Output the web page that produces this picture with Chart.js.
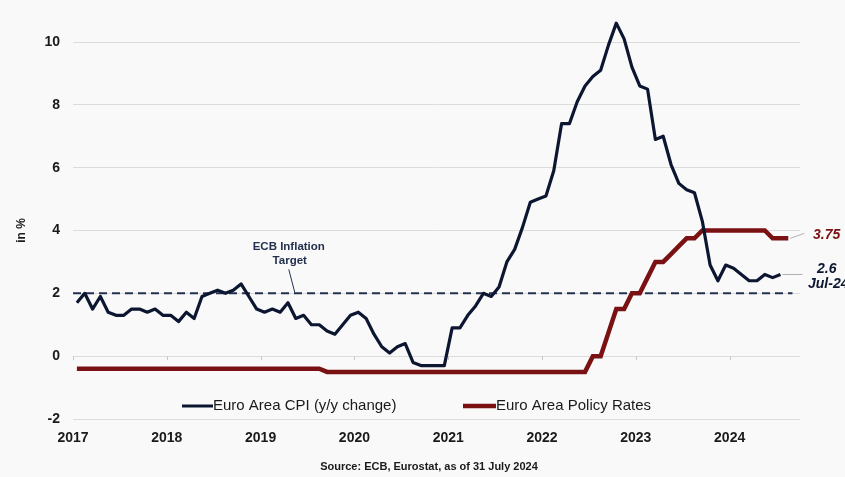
<!DOCTYPE html>
<html>
<head>
<meta charset="utf-8">
<script src="https://cdn.jsdelivr.net/npm/chart.js@4.4.1/dist/chart.umd.min.js"></script>
<style>
  html, body { margin: 0; padding: 0; background: #f9f9f9; }
  #wrap { width: 845px; height: 477px; }
</style>
</head>
<body>
<div id="wrap"><canvas id="chart" width="845" height="477"></canvas></div>
<script>
// Chart data
var startYear = 2017;
var yearTicks = [2017, 2018, 2019, 2020, 2021, 2022, 2023, 2024];

// Euro Area CPI y/y, monthly Jan 2017 - Jul 2024
var cpi = [
    1.7, 2.0, 1.5, 1.9, 1.4, 1.3, 1.3, 1.5, 1.5, 1.4, 1.5, 1.3,
    1.3, 1.1, 1.4, 1.2, 1.9, 2.0, 2.1, 2.0, 2.1, 2.3, 1.9, 1.5,
    1.4, 1.5, 1.4, 1.7, 1.2, 1.3, 1.0, 1.0, 0.8, 0.7, 1.0, 1.3,
    1.4, 1.2, 0.7, 0.3, 0.1, 0.3, 0.4, -0.2, -0.3, -0.3, -0.3, -0.3,
    0.9, 0.9, 1.3, 1.6, 2.0, 1.9, 2.2, 3.0, 3.4, 4.1, 4.9, 5.0,
    5.1, 5.9, 7.4, 7.4, 8.1, 8.6, 8.9, 9.1, 9.9, 10.6, 10.1, 9.2,
    8.6, 8.5, 6.9, 7.0, 6.1, 5.5, 5.3, 5.2, 4.3, 2.9, 2.4, 2.9,
    2.8, 2.6, 2.4, 2.4, 2.6, 2.5, 2.6
];

// Euro Area policy rate, monthly Jan 2017 - Aug 2024
var policyRate = [
    -0.4, -0.4, -0.4, -0.4, -0.4, -0.4, -0.4, -0.4, -0.4, -0.4, -0.4, -0.4,
    -0.4, -0.4, -0.4, -0.4, -0.4, -0.4, -0.4, -0.4, -0.4, -0.4, -0.4, -0.4,
    -0.4, -0.4, -0.4, -0.4, -0.4, -0.4, -0.4, -0.4, -0.5, -0.5, -0.5, -0.5,
    -0.5, -0.5, -0.5, -0.5, -0.5, -0.5, -0.5, -0.5, -0.5, -0.5, -0.5, -0.5,
    -0.5, -0.5, -0.5, -0.5, -0.5, -0.5, -0.5, -0.5, -0.5, -0.5, -0.5, -0.5,
    -0.5, -0.5, -0.5, -0.5, -0.5, -0.5, 0.0, 0.0, 0.75, 1.5, 1.5, 2.0,
    2.0, 2.5, 3.0, 3.0, 3.25, 3.5, 3.75, 3.75, 4.0, 4.0, 4.0, 4.0,
    4.0, 4.0, 4.0, 4.0, 4.0, 3.75, 3.75, 3.75
];

var inflationTarget = 2;
var targetSpan = [2017, 2024.67];

var cpiLabel = "Euro Area CPI (y/y change)";
var rateLabel = "Euro Area Policy Rates";

var cpiColor = "#0c1631";
var rateColor = "#7a1214";
var targetColor = "#23314f";

// monthly values sit at mid-month
function monthX(i) {
    return startYear + (i + 0.5) / 12;
}

function toPoints(arr) {
    return arr.map(function (v, i) {
        return { x: monthX(i), y: v };
    });
}

var font = "'Liberation Sans', Arial, sans-serif";

// Legend, annotations and zero-line ticks
var extras = {
    id: "extras",
    beforeDatasetsDraw: function (chart) {
        var ctx = chart.ctx;
        var x = chart.scales.x, y = chart.scales.y;
        var y0 = y.getPixelForValue(0);
        ctx.save();
        ctx.strokeStyle = "#c8c8c8";
        ctx.lineWidth = 1;
        yearTicks.forEach(function (yr) {
            var px = Math.round(x.getPixelForValue(yr)) + 0.5;
            ctx.beginPath();
            ctx.moveTo(px, y0);
            ctx.lineTo(px, y0 + 4);
            ctx.stroke();
        });
        ctx.restore();
    },
    afterDraw: function (chart) {
        var ctx = chart.ctx;
        var x = chart.scales.x, y = chart.scales.y;
        ctx.save();

        // legend
        ctx.textBaseline = "middle";
        ctx.textAlign = "left";
        ctx.font = "15px " + font;
        ctx.fillStyle = "#1a1a1a";
        ctx.lineWidth = 3;
        ctx.strokeStyle = cpiColor;
        ctx.beginPath(); ctx.moveTo(182, 406); ctx.lineTo(213, 406); ctx.stroke();
        ctx.fillText(cpiLabel, 213, 406);
        ctx.lineWidth = 4.5;
        ctx.strokeStyle = rateColor;
        ctx.beginPath(); ctx.moveTo(463, 406); ctx.lineTo(496, 406); ctx.stroke();
        ctx.fillText(rateLabel, 496, 406);

        // ECB target label
        var tx = x.getPixelForValue(2019.3);
        var ty = y.getPixelForValue(inflationTarget);
        ctx.textAlign = "center";
        ctx.fillStyle = targetColor;
        ctx.font = "bold 11.5px " + font;
        ctx.fillText("ECB Inflation", tx, ty - 47);
        ctx.fillText("Target", tx + 1, ty - 33);
        ctx.strokeStyle = targetColor;
        ctx.lineWidth = 1;
        ctx.beginPath(); ctx.moveTo(tx, ty - 24); ctx.lineTo(tx + 6, ty - 1); ctx.stroke();

        // end labels
        var lastRate = policyRate.length - 1;
        var rx = x.getPixelForValue(monthX(lastRate));
        var ry = y.getPixelForValue(policyRate[lastRate]);
        var lastCpi = cpi.length - 1;
        var cx = x.getPixelForValue(monthX(lastCpi));
        var cy = y.getPixelForValue(cpi[lastCpi]);
        ctx.strokeStyle = "#b0b0b0";
        ctx.lineWidth = 1;
        ctx.beginPath(); ctx.moveTo(rx + 2, ry); ctx.lineTo(rx + 16, ry - 5); ctx.stroke();
        ctx.beginPath(); ctx.moveTo(cx + 2, cy); ctx.lineTo(cx + 22, cy); ctx.stroke();

        ctx.font = "italic bold 14px " + font;
        ctx.textAlign = "left";
        ctx.fillStyle = rateColor;
        ctx.fillText(policyRate[lastRate].toFixed(2), 813, ry - 3);
        ctx.fillStyle = cpiColor;
        ctx.fillText(cpi[lastCpi].toFixed(1), 817, cy - 5);
        ctx.fillText("Jul-24", 808, cy + 10);

        // source
        ctx.textAlign = "center";
        ctx.fillStyle = "#1a1a1a";
        ctx.font = "bold 11px " + font;
        ctx.fillText("Source: ECB, Eurostat, as of 31 July 2024", 429, 467);
        ctx.restore();
    }
};

var ctx = document.getElementById("chart").getContext("2d");
var myChart = new Chart(ctx, {
    type: "line",
    data: {
        datasets: [{
                label: cpiLabel,
                data: toPoints(cpi),
                borderColor: cpiColor,
                borderWidth: 3.2,
                borderJoinStyle: "round",
                pointRadius: 0,
                tension: 0,
                clip: false
            },
            {
                label: rateLabel,
                data: toPoints(policyRate),
                borderColor: rateColor,
                borderWidth: 4.5,
                pointRadius: 0,
                tension: 0,
                clip: false
            },
            {
                label: "ECB Inflation Target",
                data: [{ x: targetSpan[0], y: inflationTarget }, { x: targetSpan[1], y: inflationTarget }],
                borderColor: targetColor,
                borderWidth: 2,
                borderDash: [8, 5],
                pointRadius: 0
            }
        ]
    },
    options: {
        responsive: false,
        animation: false,
        layout: { padding: { top: 42, right: 45, left: 0, bottom: 0 } },
        plugins: {
            legend: { display: false },
            tooltip: { enabled: false }
        },
        scales: {
            x: {
                type: "linear",
                min: 2017,
                max: 2024.75,
                afterBuildTicks: function (axis) {
                    axis.ticks = yearTicks.map(function (v) { return { value: v }; });
                },
                afterFit: function (axis) { axis.height = 58; },
                grid: { display: false, drawTicks: false },
                border: { display: false },
                ticks: {
                    padding: 11,
                    color: "#1a1a1a",
                    font: { family: font, size: 14, weight: "bold" },
                    callback: function (v) { return String(v); },
                    maxRotation: 0
                }
            },
            y: {
                min: -2,
                max: 10,
                afterFit: function (axis) { axis.width = 73; },
                grid: { color: "#dcdcdc", drawTicks: false },
                border: { display: false },
                ticks: {
                    stepSize: 2,
                    padding: 13,
                    color: "#1a1a1a",
                    font: { family: font, size: 14, weight: "bold" }
                },
                title: {
                    display: true,
                    text: "in %",
                    color: "#1a1a1a",
                    font: { family: font, size: 12, weight: "bold" },
                    padding: { top: 14, bottom: 0 }
                }
            }
        }
    },
    plugins: [extras]
});
</script>
</body>
</html>
